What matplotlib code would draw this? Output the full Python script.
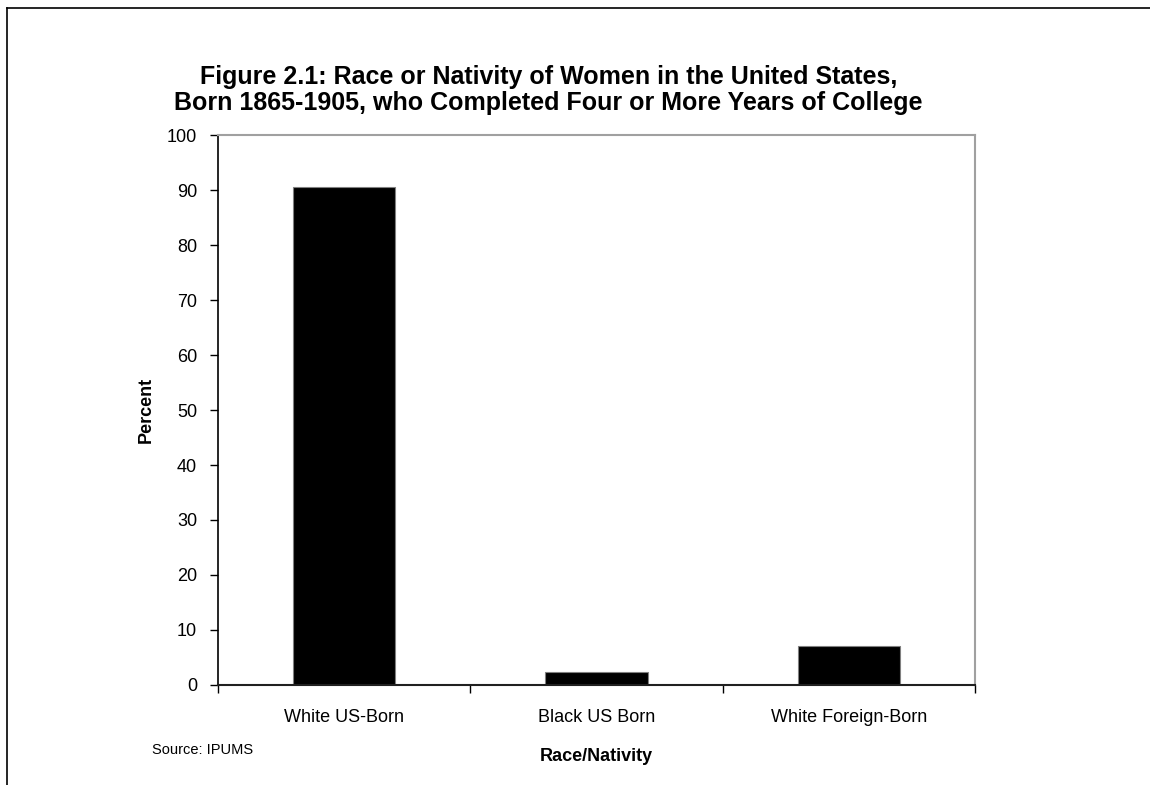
import matplotlib
matplotlib.use("Agg")
import matplotlib.pyplot as plt

plt.rcParams['font.family'] = ['Liberation Sans', 'DejaVu Sans']

categories = ["White US-Born", "Black US Born", "White Foreign-Born"]
percents = [90.5, 2.4, 7.1]
y_ticks = [0, 10, 20, 30, 40, 50, 60, 70, 80, 90, 100]

fig = plt.figure(figsize=(11.5, 7.85), dpi=100)
fig.patch.set_facecolor("white")

# outer frame (top and left edges)
fig.add_artist(plt.Line2D([0.006, 0.006], [0.0, 0.99], color="black", lw=1.2,
                          transform=fig.transFigure))
fig.add_artist(plt.Line2D([0.006, 1.0], [0.99, 0.99], color="black", lw=1.2,
                          transform=fig.transFigure))

ax = fig.add_axes([0.1896, 0.1274, 0.6583, 0.7006])
x = list(range(len(categories)))
ax.bar(x, percents, width=0.405, color="black", edgecolor="#808080", linewidth=0.8)

ax.set_xlim(-0.5, 2.5)
ax.set_ylim(0, 100)
ax.set_yticks(y_ticks)
ax.set_yticklabels([str(v) for v in y_ticks], fontsize=13)
ax.set_xticks([-0.5, 0.5, 1.5, 2.5])
ax.set_xticklabels([])
ax.set_xticks(x, minor=True)
ax.set_xticklabels(categories, minor=True, fontsize=13)
ax.tick_params(axis="x", which="minor", length=0, pad=17)
ax.tick_params(axis="x", which="major", length=6, width=1, direction="out")
ax.tick_params(axis="y", length=6, width=1, direction="out", pad=9)

for side in ("top", "right"):
    ax.spines[side].set_color("#a0a0a0")
    ax.spines[side].set_linewidth(1.5)
ax.spines["left"].set_color("black")
ax.spines["left"].set_linewidth(1.2)
ax.spines["bottom"].set_color("#202020")
ax.spines["bottom"].set_linewidth(1.5)

ax.set_ylabel("Percent", fontsize=13, fontweight="bold", labelpad=9)
ax.set_xlabel("Race/Nativity", fontsize=13, fontweight="bold", labelpad=16)

fig.text(0.477, 0.885,
         "Figure 2.1: Race or Nativity of Women in the United States,\n"
         "Born 1865-1905, who Completed Four or More Years of College",
         ha="center", va="center", fontsize=18, fontweight="bold", linespacing=1.1)
fig.text(0.132, 0.044, "Source: IPUMS", fontsize=10.5, ha="left", va="center")

fig.savefig("out.png", dpi=100, facecolor="white")
